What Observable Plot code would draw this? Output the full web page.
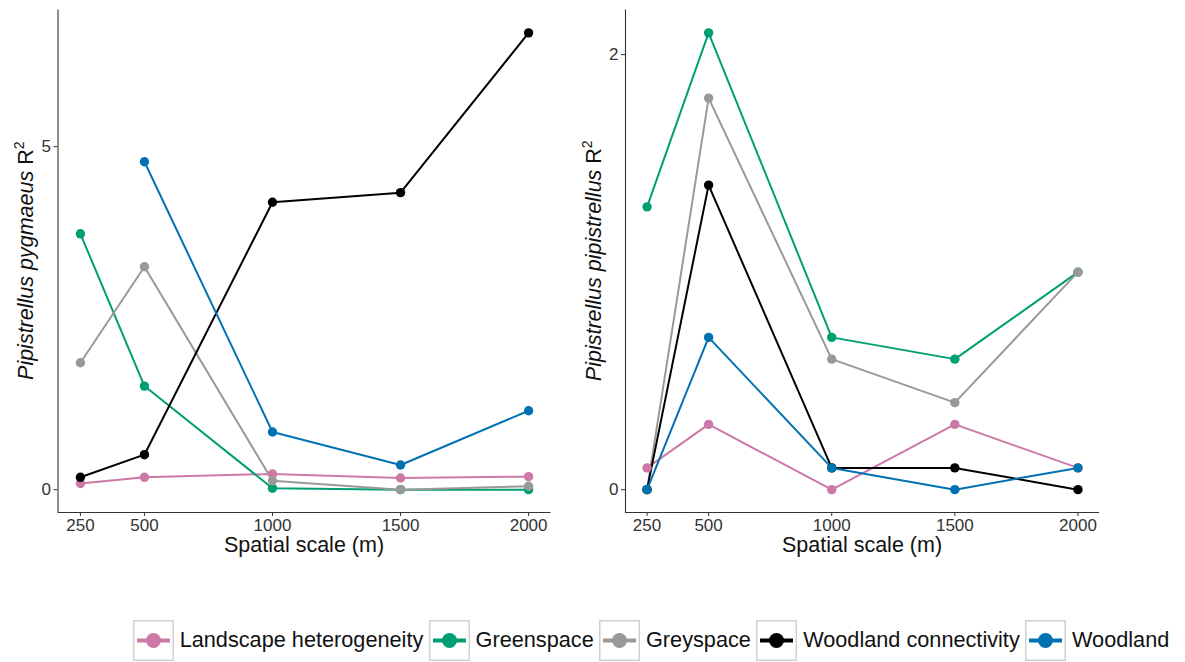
<!DOCTYPE html>
<html>
<head>
<meta charset="utf-8">
<script src="https://cdn.jsdelivr.net/npm/d3@7"></script>
<script src="https://cdn.jsdelivr.net/npm/@observablehq/plot@0.6"></script>
<style>
  html, body { margin: 0; padding: 0; background: #fff; }
  #wrap { position: relative; width: 1185px; height: 662px; font-family: "Liberation Sans", Arial, sans-serif; }
  #left, #right { position: absolute; top: 0; }
  #left { left: 0; }
  #right { left: 570px; }
  #legend { position: absolute; left: 133px; top: 619.5px; display: flex; align-items: center; white-space: nowrap; }
  .item { display: flex; align-items: center; }
  .item span { font-size: 21.7px; color: #111; margin: 0 5.6px 0 5.7px; }
</style>
</head>
<body>
<div id="wrap">
  <div id="left"></div>
  <div id="right"></div>
  <div id="legend"></div>
</div>
<script>
// Spatial scales (m) at which each landscape variable was measured
const scales = [250, 500, 1000, 1500, 2000];
const variables = ["Landscape heterogeneity", "Greenspace", "Greyspace", "Woodland connectivity", "Woodland"];
const colors = ["#CC79A7", "#009E73", "#999999", "#000000", "#0072B2"];

// Pipistrellus pygmaeus R² by scale (null = not modelled)
const pygHeterogeneity = [0.09, 0.18, 0.23, 0.17, 0.19];
const pygGreenspace    = [3.73, 1.51, 0.02, 0.00, 0.00];
const pygGreyspace     = [1.85, 3.25, 0.13, 0.00, 0.05];
const pygConnectivity  = [0.18, 0.51, 4.19, 4.33, 6.66];
const pygWoodland      = [null, 4.78, 0.84, 0.36, 1.15];

// Pipistrellus pipistrellus R² by scale
const pipHeterogeneity = [0.1, 0.3, 0.0, 0.3, 0.1];
const pipGreenspace    = [1.3, 2.1, 0.7, 0.6, 1.0];
const pipGreyspace     = [0.0, 1.8, 0.6, 0.4, 1.0];
const pipConnectivity  = [0.0, 1.4, 0.1, 0.1, 0.0];
const pipWoodland      = [0.0, 0.7, 0.1, 0.0, 0.1];

const pygTicks = [0, 5];
const pipTicks = [0, 2];

const xDomain = [162.5, 2087.5];
const FONT = "'Liberation Sans', Arial, sans-serif";

function toRows(series) {
  const rows = [];
  variables.forEach((v, i) => series[i].forEach((val, j) => {
    if (val != null) rows.push({variable: v, scale: scales[j], value: val});
  }));
  return rows;
}

function panel(target, series, yDomain, yTicks, species, o) {
  const rows = toRows(series);
  const height = 560, mt = 9.5, mb = 48;
  const chart = Plot.plot({
    width: o.width, height,
    marginLeft: o.ml, marginRight: o.mr, marginTop: mt, marginBottom: mb,
    style: {fontFamily: FONT, background: "white", color: "#333", overflow: "visible"},
    x: {domain: xDomain},
    y: {domain: yDomain},
    color: {domain: variables, range: colors},
    marks: [
      Plot.ruleX([xDomain[0]], {stroke: "#333", strokeWidth: 1.1}),
      Plot.ruleY([yDomain[0]], {stroke: "#333", strokeWidth: 1.1}),
      Plot.axisX(scales, {tickSize: 4, tickPadding: 2, fontSize: 17, tickFormat: String, label: null}),
      Plot.axisY(yTicks, {tickSize: 4, tickPadding: 3, fontSize: 17, tickFormat: String, label: null}),
      Plot.line(rows, {x: "scale", y: "value", stroke: "variable", z: "variable", strokeWidth: 2}),
      Plot.dot(rows, {x: "scale", y: "value", fill: "variable", r: 4.7})
    ]
  });
  const svg = d3.select(chart);
  // x-axis title
  const cx = o.ml + (o.width - o.ml - o.mr) / 2;
  svg.append("text")
    .attr("x", cx).attr("y", 552)
    .attr("text-anchor", "middle")
    .attr("font-family", FONT).attr("font-size", 21.5).attr("fill", "#111")
    .text("Spatial scale (m)");
  // y-axis title with italic species name and superscript
  const cy = mt + (height - mt - mb) / 2;
  const t = svg.append("text")
    .attr("transform", `translate(${o.titleX},${cy}) rotate(-90)`)
    .attr("text-anchor", "middle")
    .attr("font-family", FONT).attr("font-size", 21.5).attr("fill", "#111");
  t.append("tspan").attr("font-style", "italic").text(species);
  t.append("tspan").text(" R");
  t.append("tspan").attr("dy", -9).attr("font-size", 14).text("2");
  document.getElementById(target).appendChild(chart);
}

panel("left",
  [pygHeterogeneity, pygGreenspace, pygGreyspace, pygConnectivity, pygWoodland],
  [-0.333, 6.993], pygTicks, "Pipistrellus pygmaeus",
  {width: 560, ml: 57.5, mr: 9.5, titleX: 33});

panel("right",
  [pipHeterogeneity, pipGreenspace, pipGreyspace, pipConnectivity, pipWoodland],
  [-0.105, 2.205], pipTicks, "Pipistrellus pipistrellus",
  {width: 540, ml: 55, mr: 11, titleX: 31});

// Legend below the panels
const legend = d3.select("#legend");
variables.forEach((v, i) => {
  const item = legend.append("div").attr("class", "item");
  const key = item.append("svg").attr("width", 41).attr("height", 41);
  key.append("rect").attr("x", 0.75).attr("y", 0.75).attr("width", 39.5).attr("height", 39.5)
    .attr("fill", "white").attr("stroke", "#d0d0d0").attr("stroke-width", 1.5);
  key.append("line").attr("x1", 4).attr("x2", 37).attr("y1", 20.5).attr("y2", 20.5)
    .attr("stroke", colors[i]).attr("stroke-width", 4);
  key.append("circle").attr("cx", 20.5).attr("cy", 20.5).attr("r", 7.5).attr("fill", colors[i]);
  item.append("span").text(v);
});
</script>
</body>
</html>
